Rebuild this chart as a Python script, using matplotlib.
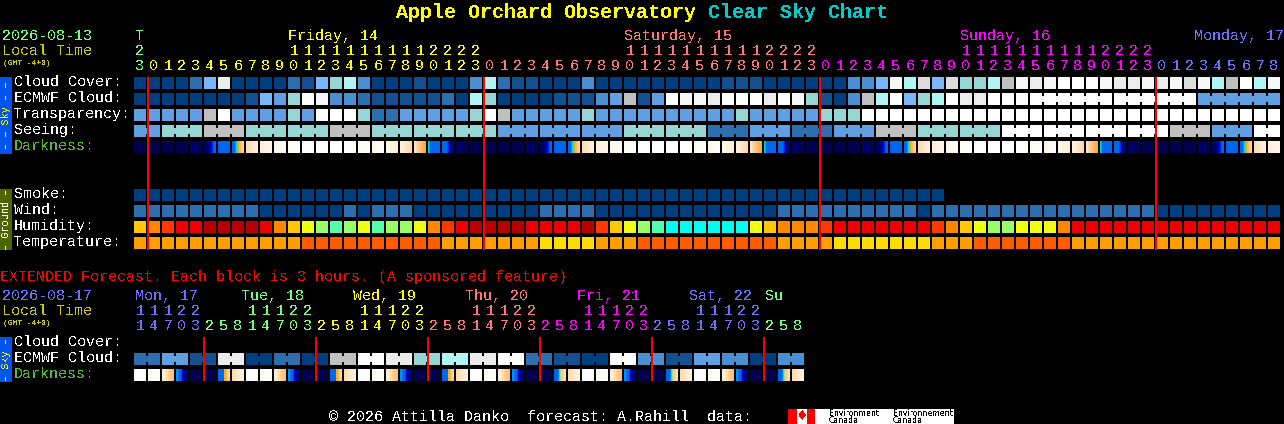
import matplotlib
matplotlib.use("Agg")
import matplotlib.pyplot as plt

plt.rcParams["font.family"] = ["Liberation Mono", "DejaVu Sans Mono"]
plt.rcParams["text.antialiased"] = False

# Colour levels shared by the sky rows
cloud_colors = ["#003f7f", "#13508f", "#2c6eae", "#4a8fd2", "#5f9fe2", "#78b7fa", "#95d5d4",
                "#b0f5f5", "#c0c0c0", "#ececec", "#ffffff", "#f6f6f6", "#dcdcdc"]

cloud_cover = [0, 0, 0, 0, 2, 5, 9, 0, 0, 0, 0, 2, 1, 5, 6, 7, 3, 0, 0, 0, 1, 0, 0, 0, 3, 7, 2, 1, 1, 0, 0, 0, 3, 0,
               0, 0, 0, 0, 0, 0, 0, 0, 1, 1, 1, 0, 0, 0, 0, 0, 0, 3, 3, 5, 11, 7, 12, 5, 12, 6, 6, 7, 8, 11, 9, 11,
               10, 10, 10, 11, 9, 9, 11, 9, 11, 12, 11, 7, 8, 10, 7, 11]
ecmwf_cloud = [0, 0, 0, 0, 0, 0, 0, 0, 1, 5, 4, 6, 10, 11, 3, 3, 2, 1, 1, 1, 1, 1, 2, 0, 7, 6, 0, 0, 0, 0, 1, 1, 1, 3,
               4, 8, 1, 4, 10, 11, 11, 9, 10, 10, 10, 9, 10, 11, 6, 1, 0, 3, 8, 7, 10, 5, 6, 7, 10, 9, 9, 10, 10, 10,
               10, 10, 10, 10, 10, 10, 10, 10, 10, 10, 10, 10, 4, 4, 4, 4, 4, 4]
transparency = [4, 4, 4, 4, 4, 8, 10, 4, 4, 4, 4, 6, 4, 10, 10, 10, 6, 2, 2, 4, 4, 4, 4, 4, 6, 10, 8, 4, 4, 4, 4, 4, 6,
                4, 4, 4, 4, 4, 4, 4, 4, 4, 4, 6, 4, 4, 4, 4, 4, 6, 6, 6, 10, 10, 10, 10, 10, 10, 10, 10, 10, 10, 10, 10,
                10, 10, 10, 10, 10, 10, 10, 10, 10, 10, 10, 10, 10, 10, 10, 10, 10, 10]
seeing = [4, 4, 6, 6, 6, 8, 8, 8, 6, 6, 6, 6, 6, 6, 8, 8, 8, 6, 6, 6, 6, 6, 6, 6, 6, 6, 4, 4, 4, 4, 4, 4, 4, 4, 4,
          6, 6, 6, 6, 6, 6, 2, 2, 2, 4, 4, 4, 2, 2, 2, 4, 4, 4, 8, 8, 8, 6, 6, 6, 6, 6, 6, 10, 10, 10, 10, 10, 10,
          10, 10, 10, 10, 10, 10, 8, 8, 8, 4, 4, 4, 10, 10]
seeing_blocks = [(0, 1), (2, 4), (5, 7), (8, 10), (11, 13), (14, 16), (17, 19), (20, 22), (23, 25), (26, 28), (29, 31),
                 (32, 34), (35, 37), (38, 40), (41, 43), (44, 46), (47, 49), (50, 52), (53, 55), (56, 58), (59, 61),
                 (62, 64), (65, 67), (68, 70), (71, 73), (74, 76), (77, 79), (80, 81)]
ecmwf_blocks = [(64, 69), (70, 75), (76, 81)]

# One letter per block, see darkness_strips
darkness = "nnnnmabcdefgwwwwgfEDGHIm" "nnnnmabcdefgwwwwgfEDGHIm" "nnnnmabcdefgwwwwgfEDGHIm" "nnnnmabcde"
darkness_strips = {
    "n": ["#000050"],
    "m": ["#000060"],
    "a": ["#000060", "#000060", "#000060", "#000070", "#000080", "#0000a0", "#0000b8", "#0000d0", "#0030e0", "#0050e8",
          "#0066ee", "#0066ee"],
    "b": ["#0066ee"],
    "c": ["#0066ee", "#0066ee", "#0066ee", "#0099ee", "#00ddee", "#00ddee", "#ffaa22", "#ffb030", "#ffbc58", "#ffc878",
          "#ffd090", "#ffd8a0"],
    "d": ["#ffdcb0", "#ffe4c0", "#ffecd0", "#fff0dc"],
    "e": ["#fff0dc", "#fff3e2", "#fff6ea"],
    "f": ["#fff6ea", "#fff9f0", "#fffcf6"],
    "g": ["#fffcf6", "#fffdf9"],
    "w": ["#ffffff"],
    "E": ["#fff6ea", "#fff2e0", "#ffeed8"],
    "D": ["#ffeed8", "#ffe8cc", "#ffe0bc", "#ffd8a8"],
    "G": ["#ffe0b8", "#ffd8a8", "#ffd098", "#ffc880", "#ffc070", "#ffb850", "#ffb040", "#ffaa22"],
    "H": ["#00ddcc", "#0099ee", "#0066ee", "#0066ee", "#0066ee", "#0066ee", "#0066ee", "#0066ee", "#0066ee", "#0066ee",
          "#0066ee", "#0066ee"],
    "I": ["#0066ee", "#0066ee", "#0066ee", "#0066ee", "#0066ee", "#0050e0", "#0030d0", "#0000c0", "#0000a0", "#000090",
          "#000080", "#000070"],
    "P": ["#fff0dc", "#ffe8cc", "#ffdcb0", "#ffd090", "#ffc880", "#ffc070"],
    "Q": ["#0088ff", "#0099ff", "#0077ee", "#0066ee", "#0066ee", "#0050e0", "#0000c0", "#0000a0", "#000090", "#000080",
          "#000070", "#000060"],
    "R": ["#0066ee", "#0066ee", "#0066ee", "#0066ee", "#0066ee", "#0066ee", "#ffaa22", "#ffb030", "#ffbc58", "#ffc878",
          "#ffd090", "#ffe0b0"],
    "S": ["#0066ee", "#0066ee", "#0066ee", "#0066ee", "#0088ee", "#66bbaa", "#aadd88", "#ffcc66", "#ffd080", "#ffd890",
          "#ffe0b0", "#ffe8cc"],
}

smoke = [0] * 58
wind = [2, 2, 2, 2, 2, 2, 2, 2, 2, 0, 0, 0, 0, 0, 0, 2, 0, 2, 2, 2, 0, 0, 0, 0, 0, 0, 0, 0, 0, 2, 2, 2, 2, 0, 0, 0, 0,
        0, 0, 0, 0, 0, 0, 0, 0, 0, 2, 2, 2, 2, 2, 2, 2, 2, 2, 2, 0, 2, 2, 2, 2, 2, 2, 2, 2, 2, 2, 2, 2, 2, 2, 2, 2,
        0, 0, 0, 0, 0, 0, 0, 0, 0]

humidity_colors = ["#b80000", "#ee0000", "#ff3800", "#ff8800", "#ffc800", "#eeff11", "#99ff66", "#55ffaa", "#00ffee"]
humidity = [4, 3, 2, 1, 1, 0, 0, 0, 0, 1, 3, 4, 5, 6, 7, 6, 5, 7, 6, 6, 5, 3, 2, 1, 0, 0, 0, 0, 1, 1, 1, 1, 0, 2, 4, 5,
            6, 7, 8, 8, 8, 8, 8, 8, 5, 4, 3, 3, 3, 2, 1, 1, 1, 1, 1, 1, 1, 2, 3, 4, 5, 6, 6, 5, 5, 5, 3, 1, 1, 1, 1, 1,
            1, 1, 1, 1, 1, 1, 1, 1, 1, 1]
temperature_colors = ["#ff5c00", "#ffa000", "#ffdd00"]
temperature = [1, 1, 1, 1, 1, 1, 1, 1, 1, 1, 1, 1, 0, 0, 0, 0, 0, 0, 0, 0, 0, 0, 1, 1, 1, 1, 1, 1, 1, 2, 2, 2, 2, 1, 1,
               1, 0, 0, 0, 0, 0, 0, 0, 0, 0, 0, 1, 1, 1, 1, 2, 2, 2, 2, 2, 2, 2, 1, 1, 1, 0, 0, 0, 0, 0, 0, 0, 1, 1, 1,
               1, 1, 1, 1, 1, 1, 1, 1, 1, 1, 1, 1]

hour_tens = ["2", "", "", "", "", "", "", "", "", "", "", "1", "1", "1", "1", "1", "1", "1", "1", "1", "1", "2", "2",
             "2", "2", "", "", "", "", "", "", "", "", "", "", "1", "1", "1", "1", "1", "1", "1", "1", "1", "1", "2",
             "2", "2", "2", "", "", "", "", "", "", "", "", "", "", "1", "1", "1", "1", "1", "1", "1", "1", "1", "1",
             "2", "2", "2", "2", "", "", "", "", "", "", "", "", ""]
hour_ones = "3" "012345678901234567890123" "012345678901234567890123" "012345678901234567890123" "012345678"
hour_owner = [0] + [1] * 24 + [2] * 24 + [3] * 24 + [4] * 9
day_colors = ["#77ff77", "#ffff00", "#ff7777", "#ff00ff", "#7070ff"]
day_labels = [("T", 136, 0), ("Friday, 14", 288, 1), ("Saturday, 15", 624, 2), ("Sunday, 16", 960, 3),
              ("Monday, 17", 1194, 4)]

ext_ecmwf = [2, 2, 4, 4, 1, 1, 9, 9, 0, 0, 2, 2, 0, 0, 8, 8, 10, 10, 9, 9, 6, 6, 7, 7, 9, 9, 10, 10, 2, 2, 1, 1, 0, 0,
             10, 10, 3, 3, 1, 1, 4, 4, 3, 3, 0, 0, 3, 3]
ext_blocks = [(0, 1), (2, 3), (4, 5), (6, 7), (8, 9), (10, 11), (12, 13), (14, 15), (16, 17), (18, 19), (20, 21),
              (22, 23), (24, 25), (26, 27), (28, 29), (30, 31), (32, 33), (34, 35), (36, 37), (38, 39), (40, 41),
              (42, 43), (44, 45), (46, 47)]
ext_darkness = "wgPQnnRd" "wgPQnnRd" "wgPQnnRd" "wgPQnnSd" "wgPQnnSd" "wgPQnnSd"
ext_tens = ["1", "1", "1", "2", "2", "", "", "", "1", "1", "1", "2", "2", "", "", "", "1", "1", "1", "2", "2", "", "",
            "", "1", "1", "1", "2", "2", "", "", "", "1", "1", "1", "2", "2", "", "", "", "1", "1", "1", "2", "2", "",
            "", ""]
ext_ones = "14703258" "14703258" "14703258" "14703258" "14703258" "14703258"
ext_owner = [4] * 5 + [0] * 8 + [1] * 8 + [2] * 8 + [3] * 8 + [4] * 8 + [0] * 3
ext_day_labels = [("Mon, 17", 135, 4), ("Tue, 18", 241, 0), ("Wed, 19", 353, 1), ("Thu, 20", 465, 2),
                  ("Fri, 21", 577, 3), ("Sat, 22", 689, 4), ("Su", 765, 0)]

X0 = 134
PITCH = 14
CELL = 12
LABEL_SIZE = 10.8


def col_x(col):
    return X0 + PITCH * col


def draw_row(ax, top, values, colors, blocks=()):
    for col, value in enumerate(values):
        ax.bar(col_x(col), CELL, width=CELL, bottom=top, align="edge", color=colors[value], antialiased=False)
    # same-forecast blocks are joined by a narrow bridge
    for first, last in blocks:
        for col in range(first, last):
            ax.bar(col_x(col) + CELL, CELL - 6, width=PITCH - CELL, bottom=top + 3, align="edge",
                   color=colors[values[col]], antialiased=False)


def draw_darkness(ax, top, kinds):
    for col, kind in enumerate(kinds):
        strips = darkness_strips[kind]
        step = CELL / len(strips)
        for i, color in enumerate(strips):
            ax.bar(col_x(col) + i * step, CELL, width=step, bottom=top, align="edge", color=color, antialiased=False)


def draw_hours(ax, tens_y, ones_y, tens, ones, owner):
    for col, (ten, one, day) in enumerate(zip(tens, ones, owner)):
        center = col_x(col) + CELL / 2
        ax.text(center, tens_y, ten, color=day_colors[day], fontsize=LABEL_SIZE, ha="center", va="baseline")
        ax.text(center, ones_y, one, color=day_colors[day], fontsize=LABEL_SIZE, ha="center", va="baseline")


def label(ax, x, y, text, color="white", size=LABEL_SIZE, **kwargs):
    ax.text(x, y, text, color=color, fontsize=size, va="baseline", **kwargs)


def side_bar(ax, top, bottom, color, text, text_color):
    ax.bar(0, bottom - top, width=12, bottom=top, align="edge", color=color, antialiased=False)
    ax.text(6, (top + bottom) / 2, text, color=text_color, fontsize=7.4, rotation=90, ha="center", va="center")


fig = plt.figure(figsize=(12.84, 4.24), dpi=100, facecolor="black")
ax = fig.add_axes([0, 0, 1, 1])
ax.set_xlim(0, 1284)
ax.set_ylim(424, 0)
ax.axis("off")

# Title
label(ax, 396, 18, "Apple Orchard Observatory", "#ffff00", 14.4, fontweight="bold")
label(ax, 708, 18, "Clear Sky Chart", "#00cccc", 14.4, fontweight="bold")

# Header of the main chart
label(ax, 2, 40, "2026-08-13", "#77ff77")
label(ax, 2, 55, "Local Time", "#cccc00")
label(ax, 3, 65, "(GMT -4+0)", "#cccc00", 5.8)
for text, x, day in day_labels:
    label(ax, x, 40, text, day_colors[day])
draw_hours(ax, 55, 70, hour_tens, hour_ones, hour_owner)

# Sky rows
side_bar(ax, 77, 154, "#0055ee", "– – Sky – –", "#ffff00")
draw_row(ax, 77, cloud_cover, cloud_colors)
draw_row(ax, 93, ecmwf_cloud, cloud_colors, ecmwf_blocks)
draw_row(ax, 109, transparency, cloud_colors)
draw_row(ax, 125, seeing, cloud_colors, seeing_blocks)
draw_darkness(ax, 141, darkness)
label(ax, 14, 86, "Cloud Cover:")
label(ax, 14, 102, "ECMWF Cloud:")
label(ax, 14, 118, "Transparency:")
label(ax, 14, 134, "Seeing:")
label(ax, 14, 150, "Darkness:", "#55bb33")

# Ground rows
side_bar(ax, 189, 250, "#4f6600", "– Ground –", "white")
draw_row(ax, 189, smoke, cloud_colors)
draw_row(ax, 205, wind, cloud_colors)
draw_row(ax, 221, humidity, humidity_colors)
draw_row(ax, 237, temperature, temperature_colors)
label(ax, 14, 198, "Smoke:")
label(ax, 14, 214, "Wind:")
label(ax, 14, 230, "Humidity:")
label(ax, 14, 246, "Temperature:")

# Midnight markers
for col in [1, 25, 49, 73]:
    ax.bar(col_x(col) - 1, 173, width=2, bottom=77, align="edge", color="#ff0000", antialiased=False)

# Extended forecast
label(ax, 0, 281, "EXTENDED Forecast. Each block is 3 hours. (A sponsored feature)", "#ff0000")
label(ax, 2, 300, "2026-08-17", "#7070ff")
label(ax, 2, 315, "Local Time", "#cccc00")
label(ax, 3, 325, "(GMT -4+0)", "#cccc00", 5.8)
for text, x, day in ext_day_labels:
    label(ax, x, 300, text, day_colors[day])
draw_hours(ax, 315, 330, ext_tens, ext_ones, ext_owner)

side_bar(ax, 337, 382, "#0055ee", "– Sky –", "#ffff00")
draw_row(ax, 353, ext_ecmwf, cloud_colors, ext_blocks)
draw_darkness(ax, 369, ext_darkness)
label(ax, 14, 346, "Cloud Cover:")
label(ax, 14, 362, "ECMWF Cloud:")
label(ax, 14, 378, "Darkness:", "#55bb33")
for col in [5, 13, 21, 29, 37, 45]:
    ax.bar(col_x(col) - 1, 44, width=2, bottom=337, align="edge", color="#ff0000", antialiased=False)

# Footer
label(ax, 329, 421, "© 2026 Attilla Danko  forecast: A.Rahill  data:")
ax.bar(788, 15, width=166, bottom=409, align="edge", color="white", antialiased=False)
ax.bar(788, 15, width=9, bottom=409, align="edge", color="#ff0000", antialiased=False)
ax.bar(807, 15, width=8, bottom=409, align="edge", color="#ff0000", antialiased=False)
ax.text(801.5, 416.5, "♦", color="#ff0000", fontsize=10, ha="center", va="center", fontfamily="DejaVu Sans")
ax.text(829, 416, "Environment", color="black", fontsize=5.6, fontfamily="DejaVu Sans", va="baseline")
ax.text(829, 423, "Canada", color="black", fontsize=5.6, fontfamily="DejaVu Sans", va="baseline")
ax.text(893, 416, "Environnement", color="black", fontsize=5.6, fontfamily="DejaVu Sans", va="baseline")
ax.text(893, 423, "Canada", color="black", fontsize=5.6, fontfamily="DejaVu Sans", va="baseline")

fig.savefig("out.png", dpi=100, facecolor="black")
